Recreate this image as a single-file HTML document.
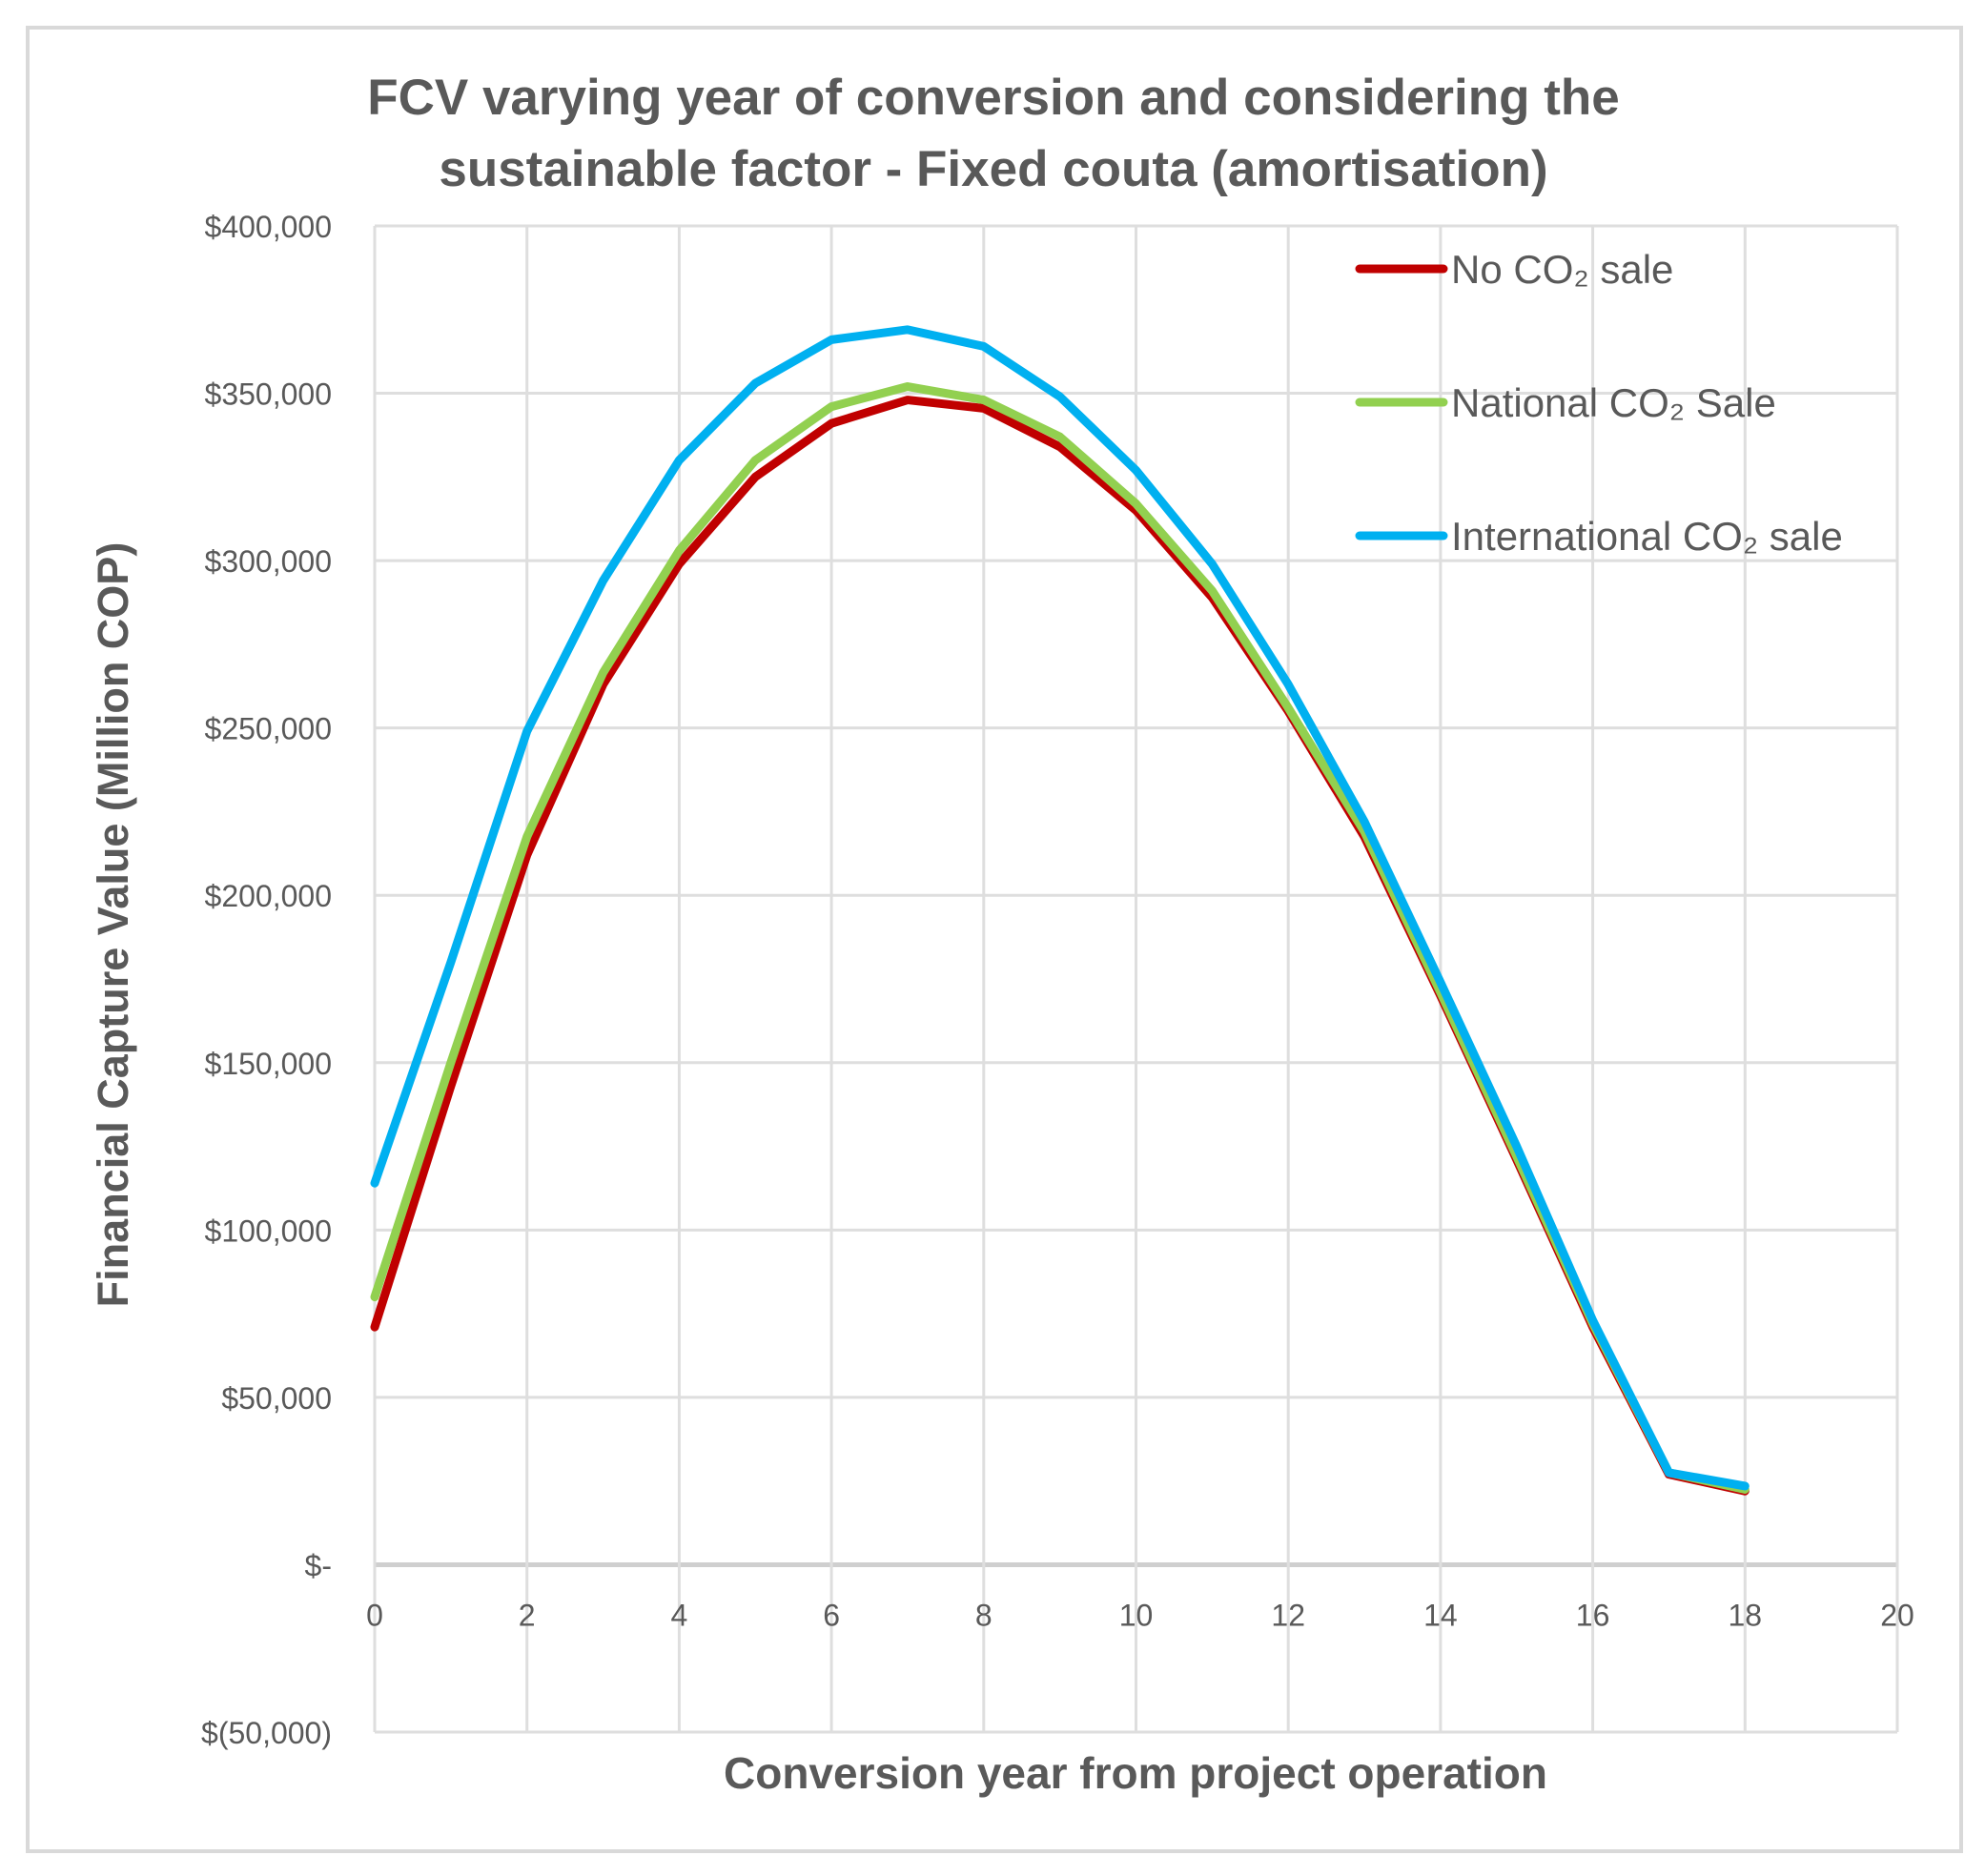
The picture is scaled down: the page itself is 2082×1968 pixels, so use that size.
<!DOCTYPE html>
<html><head><meta charset="utf-8"><style>
html,body{margin:0;padding:0;background:#fff}
svg{display:block}
text{font-family:"Liberation Sans",sans-serif;fill:#595959}
</style></head><body>
<svg id="chart" width="2082" height="1968" viewBox="0 0 2082 1968">
<rect x="29" y="29" width="2028" height="1913" fill="#fff" stroke="#d9d9d9" stroke-width="4"/>
<text x="1042" y="120" text-anchor="middle" font-size="53" font-weight="bold">FCV varying year of conversion and considering the</text>
<text x="1042" y="195" text-anchor="middle" font-size="53" font-weight="bold">sustainable factor - Fixed couta (amortisation)</text>
<g id="grid"></g>
<g id="yticks"></g>
<g id="xticks"></g>
<text transform="translate(134,970) rotate(-90)" text-anchor="middle" font-size="45" font-weight="bold">Financial Capture Value (Million COP)</text>
<text x="1191" y="1876" text-anchor="middle" font-size="46" font-weight="bold">Conversion year from project operation</text>
<g id="series"></g>
<g id="legend"></g>
</svg>
<script>
const years=[0,1,2,3,4,5,6,7,8,9,10,11,12,13,14,15,16,17,18];
const noCO2=[71000,143000,212000,263000,299000,325000,341000,348000,345500,334000,315000,289000,255000,217500,170000,121000,71000,27000,22000];
const nationalCO2=[80000,150000,217500,266500,303000,330000,346000,352000,348000,337000,317000,291000,256000,219000,171000,122000,72000,27500,22500];
const internationalCO2=[114000,180000,249000,294000,330000,353000,366000,369000,364000,349000,327000,299000,263000,222000,174000,125000,73000,27500,23500];
const yTickValues=[-50000,0,50000,100000,150000,200000,250000,300000,350000,400000];
const yTickLabels=["$(50,000)","$-","$50,000","$100,000","$150,000","$200,000","$250,000","$300,000","$350,000","$400,000"];
const xTickValues=[0,2,4,6,8,10,12,14,16,18,20];
const seriesNames=["No CO\u2082  sale","National CO\u2082  Sale","International CO\u2082  sale"];
const seriesColors=["#c00000","#92d050","#00b0f0"];

const NS="http://www.w3.org/2000/svg";
const L=393,R=1990,T=237,B=1817;
const xS=v=>L+(v-0)/(20-0)*(R-L);
const yS=v=>B-(v+50000)/450000*(B-T);
function mk(tag,attrs,parent){const e=document.createElementNS(NS,tag);for(const k in attrs)e.setAttribute(k,attrs[k]);parent.appendChild(e);return e;}
const grid=document.getElementById('grid'),yt=document.getElementById('yticks'),xt=document.getElementById('xticks');
yTickValues.forEach((v,i)=>{
  const ln=mk('line',{x1:L,x2:R,y1:yS(v),y2:yS(v),stroke:v===0?'#cfcfcf':'#dedede','stroke-width':v===0?5:3},grid);
  
  
  const t=mk('text',{x:348,y:yS(v)+12,'text-anchor':'end','font-size':32},yt);
  t.textContent=yTickLabels[i];
  
  
});
xTickValues.forEach(v=>{
  const ln=mk('line',{x1:xS(v),x2:xS(v),y1:T,y2:B,stroke:'#dedede','stroke-width':3},grid);
  
  
  const t=mk('text',{x:xS(v),y:yS(0)+64,'text-anchor':'middle','font-size':32},xt);
  t.textContent=String(v);
  
  
});
const all=[noCO2,nationalCO2,internationalCO2];
const sg=document.getElementById('series'),lg=document.getElementById('legend');
const names=['line-no-co2-sale','line-national-co2-sale','line-international-co2-sale'];
all.forEach((arr,s)=>{
  const pts=arr.map((v,i)=>xS(years[i])+','+yS(v)).join(' ');
  const pl=mk('polyline',{points:pts,fill:'none',stroke:seriesColors[s],'stroke-width':9,'stroke-linejoin':'round','stroke-linecap':'round'},sg);
  
  
  const ly=282+s*140;
  const ll=mk('line',{x1:1426,x2:1514,y1:ly,y2:ly,stroke:seriesColors[s],'stroke-width':9,'stroke-linecap':'round'},lg);
  
  
  const tx=mk('text',{x:1522,y:ly+15,'font-size':42},lg);
  tx.textContent=seriesNames[s];
  
  
});
</script>
</body></html>
